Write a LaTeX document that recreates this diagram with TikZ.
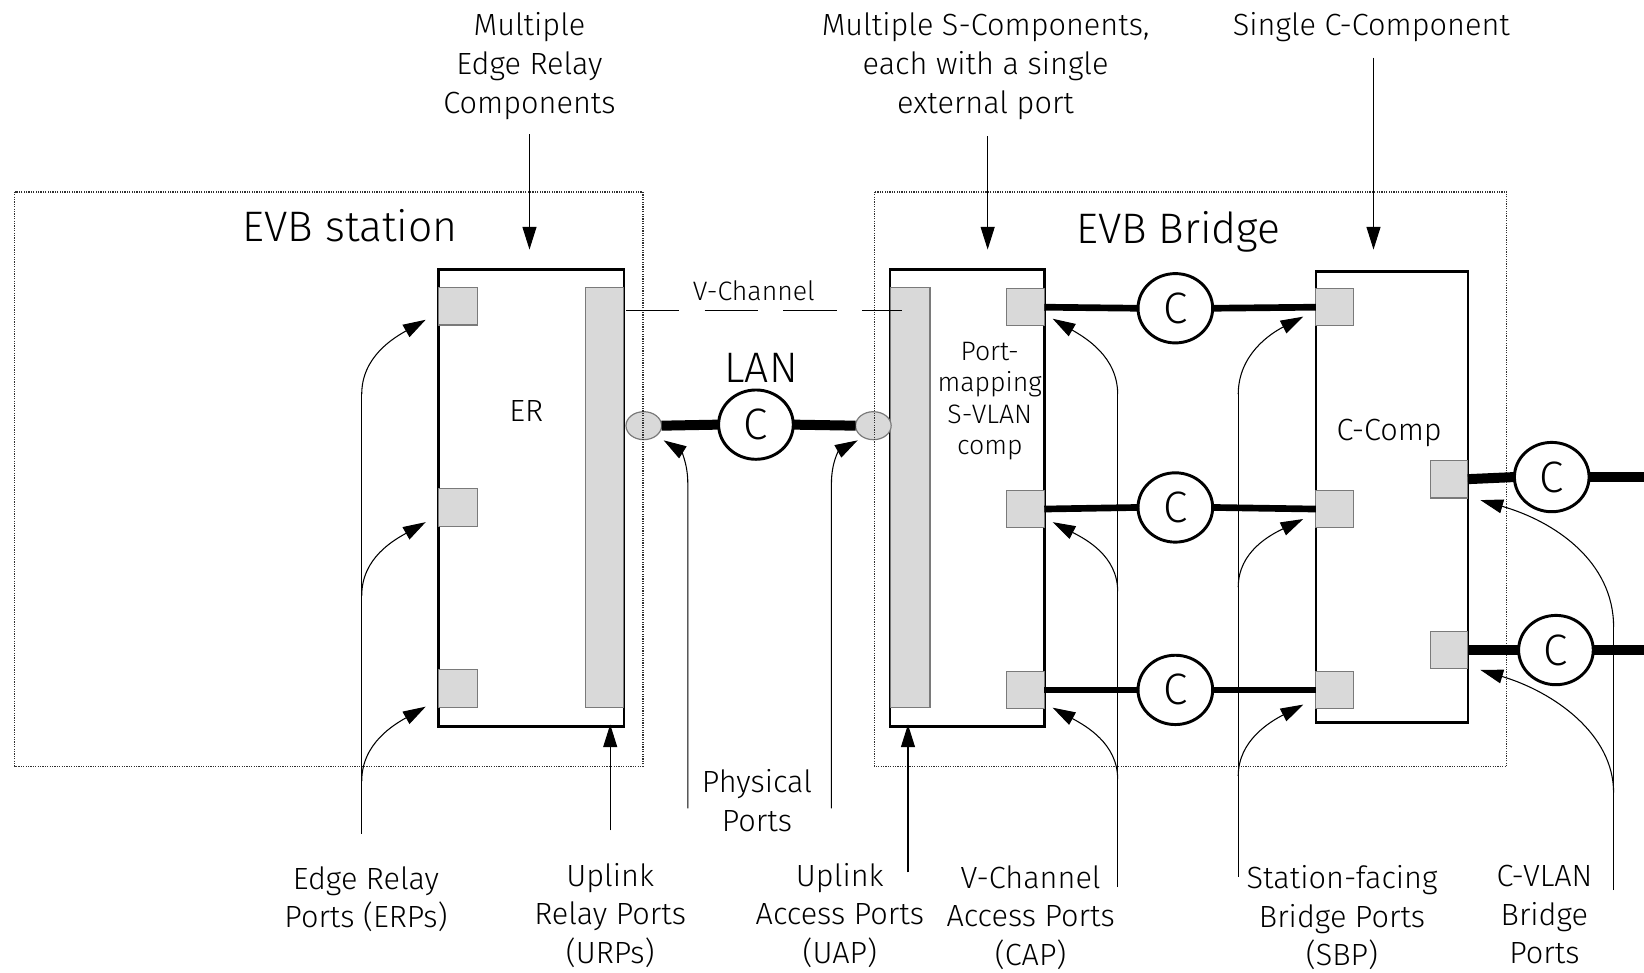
\documentclass[tikz,border=0pt]{standalone}
\usepackage{fontspec}
\setmainfont{Fira Sans Light}
\usetikzlibrary{arrows.meta,shapes.geometric}
\definecolor{portfill}{HTML}{D9D9D9}
\definecolor{portline}{HTML}{7A7A7A}
\definecolor{dotline}{HTML}{303030}
\begin{document}
\begin{tikzpicture}[x=0.7864pt,y=-0.7864pt,
  lbl/.style={font=\fontsize{23}{29}\selectfont, align=center, inner sep=0pt},
  biglbl/.style={font=\fontsize{32}{38}\selectfont, inner sep=0pt},
  midlbl/.style={font=\fontsize{23}{23}\selectfont, inner sep=0pt},
  comp/.style={draw, line width=2pt, rectangle, inner sep=0pt, outer sep=0pt, fill=white},
  portbox/.style={draw=portline, fill=portfill, line width=0.8pt, rectangle, inner sep=0pt, outer sep=0pt},
  physport/.style={draw=portline, fill=portfill, ellipse, line width=0.9pt, minimum width=26.7pt, minimum height=21pt, inner sep=0pt, outer sep=0pt},
  cnode/.style={draw, ellipse, line width=2.2pt, fill=white, minimum width=56pt, minimum height=52pt, inner sep=0pt, outer sep=0pt, font=\fontsize{33}{33}\selectfont},
  evbbox/.style={draw=dotline, line width=1.2pt, dash pattern=on 0.9pt off 0.9pt},
  ptr/.style={line width=0.8pt, -{Triangle[length=17pt,width=10.5pt]}},
  ptrline/.style={line width=0.8pt},
  thickA/.style={line width=7.5pt},
  thickB/.style={line width=5pt},
  vdash/.style={line width=1.1pt, dash pattern=on 40pt off 19pt},
]
\useasboundingbox (0,0) rectangle (1568,928);

% ---------- component boxes ----------
\node[comp, minimum width=139.2pt, minimum height=342.9pt] (er) at (506.5,475) {};
\node[comp, minimum width=115.6pt, minimum height=342.9pt] (sc) at (922.5,475) {};
\node[comp, minimum width=114pt, minimum height=338.2pt] (cc) at (1327.5,474) {};

% ER ports and uplink bar
\node[portbox, minimum width=29.1pt, minimum height=28.3pt] (erp1) at (436.5,292) {};
\node[portbox, minimum width=29.1pt, minimum height=28.3pt] (erp2) at (436.5,484) {};
\node[portbox, minimum width=29.1pt, minimum height=28.3pt] (erp3) at (436.5,656.5) {};
\node[portbox, minimum width=29.1pt, minimum height=315.3pt] (erbar) at (576.5,474.5) {};

% S-comp bar and ports
\node[portbox, minimum width=29.9pt, minimum height=315.3pt] (sbar) at (868,474.5) {};
\node[portbox, minimum width=28.3pt, minimum height=27.5pt] (sp1) at (978,293) {};
\node[portbox, minimum width=28.3pt, minimum height=27.5pt] (sp2) at (978,485.5) {};
\node[portbox, minimum width=28.3pt, minimum height=27.5pt] (sp3) at (978,658) {};

% C-comp ports
\node[portbox, minimum width=28.3pt, minimum height=27.5pt] (cl1) at (1273,293) {};
\node[portbox, minimum width=28.3pt, minimum height=27.5pt] (cl2) at (1273,485.5) {};
\node[portbox, minimum width=28.3pt, minimum height=27.5pt] (cl3) at (1273,658) {};
\node[portbox, minimum width=28.3pt, minimum height=28.3pt] (cr1) at (1382,457) {};
\node[portbox, minimum width=28.3pt, minimum height=28.3pt] (cr2) at (1382,620) {};

% physical ports
\node[physport] (pl) at (614,406) {};
\node[physport] (pr) at (833,406) {};

% ---------- dotted EVB boxes ----------
\draw[evbbox] (14,183) rectangle (613,731);
\draw[evbbox] (834,183) rectangle (1437,731);

% ---------- texts ----------
\node[biglbl, anchor=base] (evbst) at (334,230) {EVB station};
\node[biglbl, anchor=base] (evbbr) at (1124,232) {EVB Bridge};
\node[biglbl, anchor=base] (lan) at (726,365) {LAN};
\node[font=\fontsize{20}{20}\selectfont, inner sep=0pt, anchor=base] (vch) at (719,287) {V-Channel};
\node[midlbl, anchor=base] (ert) at (502,402) {ER};
\node[midlbl, anchor=base] (cct) at (1325,420) {C-Comp};
\node[font=\fontsize{20}{23.6}\selectfont, align=center, inner sep=0pt, anchor=north] (pmt) at (944,326) {Port-\\mapping\\S-VLAN\\comp};

% top labels
\node[lbl, anchor=north] (mer) at (505,12) {Multiple\\Edge Relay\\Components};
\node[lbl, anchor=north] (msc) at (940,12) {Multiple S-Components,\\each with a single\\external port};
\node[lbl, anchor=north] (scc) at (1308,12) {Single C-Component};

% bottom labels
\node[lbl, anchor=north] (erpl) at (349,826) {Edge Relay\\Ports (ERPs)};
\node[lbl, anchor=north] (urpl) at (582,823) {Uplink\\Relay Ports\\(URPs)};
\node[lbl, anchor=north] (phyl) at (722,734) {Physical\\Ports};
\node[lbl, anchor=north] (uapl) at (801,823) {Uplink\\Access Ports\\(UAP)};
\node[lbl, anchor=north] (capl) at (983,825) {V-Channel\\Access Ports\\(CAP)};
\node[lbl, anchor=north] (sbpl) at (1280,825) {Station-facing\\Bridge Ports\\(SBP)};
\node[lbl, anchor=north] (cvbl) at (1473,825) {C-VLAN\\Bridge\\Ports};

% ---------- V-Channel ----------
\coordinate (vcL) at (597,296);
\coordinate (vcR) at (860,296);
\draw[vdash] (vcL) -- (vcR);

% ---------- links ----------
\node[cnode] (lanc) at (721,405) {C};
\draw[thickA] (pl.east) -- (lanc.west);
\draw[thickA] (lanc.east) -- (pr.west);

\node[cnode] (c1) at (1121,294) {C};
\node[cnode] (c2) at (1121,484) {C};
\node[cnode] (c3) at (1121,658) {C};
\draw[thickB] (sp1.east) -- (c1.west); \draw[thickB] (c1.east) -- (cl1.west);
\draw[thickB] (sp2.east) -- (c2.west); \draw[thickB] (c2.east) -- (cl2.west);
\draw[thickB] (sp3.east) -- (c3.west); \draw[thickB] (c3.east) -- (cl3.west);

\node[cnode] (rc1) at (1480,455) {C};
\node[cnode] (rc2) at (1484,620) {C};
\coordinate (rend1) at (1580,455);
\coordinate (rend2) at (1580,620);
\draw[thickA] (cr1.east) -- (rc1.west); \draw[thickA] (rc1.east) -- (rend1);
\draw[thickA] (cr2.east) -- (rc2.west); \draw[thickA] (rc2.east) -- (rend2);

% ---------- top pointer arrows ----------
\coordinate (merS) at (505,128);
\coordinate (merT) at (505,238);
\coordinate (mscS) at (942,130);
\coordinate (mscT) at (942,238);
\coordinate (sccS) at (1310,55);
\coordinate (sccT) at (1310,238);
\draw[ptr] (merS) -- (merT);
\draw[ptr] (mscS) -- (mscT);
\draw[ptr] (sccS) -- (sccT);

% ---------- bottom pointer arrows ----------
% ERP
\coordinate (erpB) at (345,795);
\coordinate (erpT1) at (406,305);
\coordinate (erpT2) at (406,498);
\coordinate (erpT3) at (406,674);
\draw[ptrline] (erpB) -- (345,376);
\draw[ptr] (345,376) .. controls (345,340) and (376,322) .. (erpT1);
\draw[ptr] (345,568) .. controls (345,532) and (376,515) .. (erpT2);
\draw[ptr] (345,745) .. controls (345,709) and (376,691) .. (erpT3);

% URP, UAP
\coordinate (urpB) at (582,792);
\coordinate (urpT) at (582,691);
\draw[ptr] (urpB) -- (urpT);
\coordinate (uapB) at (866,832);
\coordinate (uapT) at (866,691);
\draw[ptr] (uapB) -- (uapT);

% physical ports
\coordinate (phB1) at (656,771);
\coordinate (phT1) at (633,420);
\coordinate (phB2) at (793,771);
\coordinate (phT2) at (818,420);
\draw[ptr] (phB1) -- (656,461) .. controls (656,441) and (649,430) .. (phT1);
\draw[ptr] (phB2) -- (793,461) .. controls (793,441) and (800,430) .. (phT2);

% CAP
\coordinate (capB) at (1066,846);
\coordinate (capT1) at (1004,304);
\coordinate (capT2) at (1004,498);
\coordinate (capT3) at (1004,675);
\draw[ptrline] (capB) -- (1066,376);
\draw[ptr] (1066,376) .. controls (1066,340) and (1035,322) .. (capT1);
\draw[ptr] (1066,564) .. controls (1066,530) and (1035,514) .. (capT2);
\draw[ptr] (1066,743) .. controls (1066,709) and (1035,692) .. (capT3);

% SBP
\coordinate (sbpB) at (1181,836);
\coordinate (sbpT1) at (1243,302);
\coordinate (sbpT2) at (1243,495);
\coordinate (sbpT3) at (1243,672);
\draw[ptrline] (sbpB) -- (1181,376);
\draw[ptr] (1181,376) .. controls (1181,338) and (1212,318) .. (sbpT1);
\draw[ptr] (1181,560) .. controls (1181,526) and (1212,510) .. (sbpT2);
\draw[ptr] (1181,740) .. controls (1181,706) and (1212,688) .. (sbpT3);

% C-VLAN
\coordinate (cvbB) at (1539,849);
\coordinate (cvbT1) at (1412,477);
\coordinate (cvbT2) at (1412,639);
\draw[ptrline] (cvbB) -- (1539,598);
\draw[ptr] (1539,598) .. controls (1539,535) and (1482,497) .. (cvbT1);
\draw[ptr] (1539,756) .. controls (1539,700) and (1482,660) .. (cvbT2);
\end{tikzpicture}
\end{document}
